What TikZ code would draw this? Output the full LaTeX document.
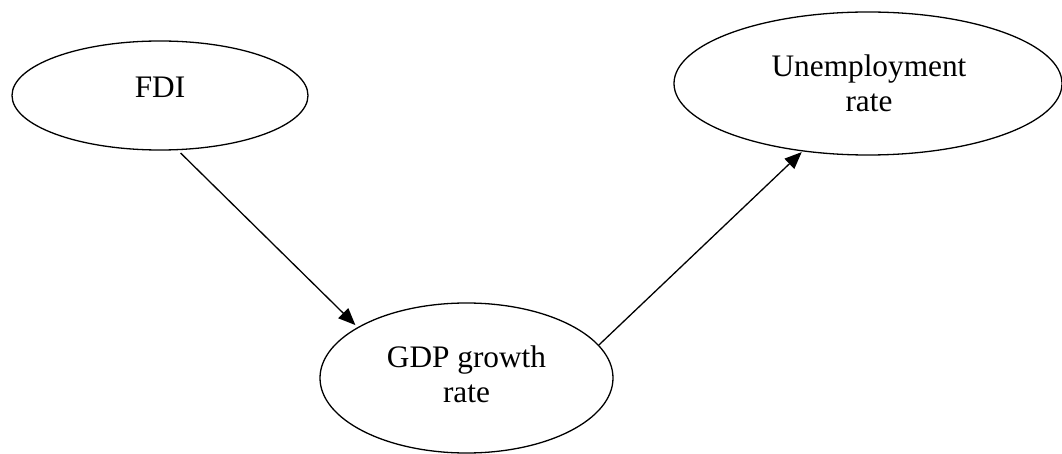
\documentclass[tikz,border=0pt]{standalone}
\usepackage{fontspec}
\setmainfont{Liberation Serif}
\usetikzlibrary{shapes.geometric,arrows.meta}
\begin{document}
\begin{tikzpicture}[x=1pt,y=-1pt,
  oval/.style={draw=black,line width=1.3pt,ellipse,inner sep=0pt},
  txt/.style={align=center,inner sep=0pt,font=\fontsize{31.3}{35}\selectfont},
  conn/.style={draw=black,line width=1.3pt,-{Triangle[length=17pt,width=14pt]}}]
\useasboundingbox (0,0) rectangle (1062,454);
\node[oval,minimum width=296pt,minimum height=109pt] (fdi) at (160,95.5) {};
\node[oval,minimum width=388pt,minimum height=143pt] (unemp) at (868,83.5) {};
\node[oval,minimum width=293pt,minimum height=150pt] (gdp) at (466.5,378) {};
\node[txt] (fdit) at (160,87) {FDI};
\node[txt] (unempt) at (869,83) {Unemployment\\rate};
\node[txt] (gdpt) at (466.5,374) {GDP growth\\rate};
\draw[conn,shorten <=4pt,shorten >=3pt] (fdi.-72) -- (gdp.155);
\draw[conn,shorten >=1pt] (gdp.14) -- (unemp.226.5);
\end{tikzpicture}
\end{document}
